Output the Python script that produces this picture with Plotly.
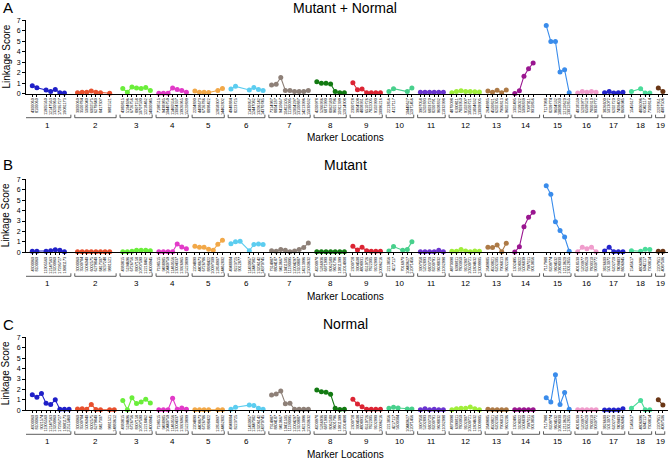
import plotly.graph_objects as go

# ---------------- data ----------------
CHROMOSOMES = ["1", "2", "3", "4", "5", "6", "7", "8", "9", "10",
               "11", "12", "13", "14", "15", "16", "17", "18", "19"]

COLORS = ["#1f1fc8", "#e8502e", "#6aee3a", "#e23ac8", "#f2a848", "#5ccdf0",
          "#8e8078", "#127a12", "#dc2433", "#48d08c", "#6a34d0", "#a0ee3a",
          "#ad7a46", "#9a1690", "#3a8ceb", "#f09ccc", "#2424cc", "#4adc9a",
          "#6a3616"]

MARKER_IDS = [
    ["1904061", "4300060", "8100060", "9021574", "11905560", "12147563", "13200960", "17295727", "19081173", "22515460"],
    ["3000060", "3500784", "5006040", "6002575", "6279840", "8417307", "9237248", "9881521", "14880612"],
    ["4380815", "5194696", "6726756", "8907158", "10707590", "12218462", "14000945"],
    ["7198515", "9438985", "10440759", "11460556", "13004337", "13926965", "15220899"],
    ["2204890", "4408673", "6726786", "8898422", "10097309", "12858907", "14462802"],
    ["4948884", "8223725", "9012877", "10341250", "11430957", "12447082", "13206142", "14370745"],
    ["7314987", "8804187", "9410667", "10411505", "11190095", "12004297", "13100887", "14213996", "15030632"],
    ["4200978", "5266936", "6871990", "8062580", "9601796", "10911399", "12014908"],
    ["2300728", "3904508", "4808931", "6510726", "7822005", "9102990", "10096216"],
    ["2213856", "4217117", "5600384", "7016970", "10440627", "12071456"],
    ["3907058", "5202893", "6803720", "8200791", "9608832", "11032998"],
    ["4870098", "6390811", "7803950", "9102907", "10500721", "11804632", "13009905"],
    ["2649885", "4500821", "6202305", "7906813", "9602206"],
    ["1302495", "3108022", "5006839", "7097011", "9010856", "10852470"],
    ["7117988", "8209774", "9604532", "10808030", "12110620", "13012855"],
    ["4018530", "5203977", "6509520", "7800310", "9030772"],
    ["3826600", "5013072", "6202720", "7409403", "8606945"],
    ["1545617", "3200415", "4806096", "6042117", "7300814"],
    ["2207951", "4087506"],
]

# Linkage scores, Mutant + Normal
VALUES_A = [
    [None, 0.76, 0.57, None, 0.35, 0.22, 0.41, 0.10, 0.06, None],
    [0.10, 0.15, 0.15, 0.25, 0.15, 0.10, None, 0.05, None],
    [0.50, 0.15, 0.65, 0.55, 0.50, 0.58, 0.30],
    [0.05, 0.05, 0.05, 0.55, 0.40, 0.30, 0.15],
    [0.25, 0.15, 0.15, 0.12, None, 0.30, 0.50],
    [0.45, 0.70, None, None, 0.35, 0.60, 0.40, 0.30],
    [0.83, 0.90, 1.55, 0.30, 0.30, 0.20, 0.20, 0.20, 0.30],
    [1.15, 1.00, 1.00, 0.92, 0.20, 0.10, 0.10],
    [1.05, 0.38, 0.45, 0.10, 0.10, 0.10, 0.10],
    [0.20, 0.48, None, None, 0.20, 0.55],
    [0.15, 0.15, 0.15, 0.15, 0.15, 0.15],
    [0.10, 0.20, 0.29, 0.22, 0.22, 0.19, 0.16],
    [0.25, 0.13, 0.32, 0.10, 0.35],
    [0.03, 0.29, 1.67, 2.38, 2.93, None],
    [6.50, 4.98, 4.98, 2.06, 2.28, 0.10],
    [0.06, 0.22, 0.13, 0.22, 0.13],
    [0.10, 0.20, 0.06, 0.10, 0.13],
    [0.20, None, 0.48, 0.06, 0.06],
    [0.55, 0.20],
]

# Linkage scores, Mutant
VALUES_B = [
    [None, 0.10, 0.10, None, 0.10, 0.15, 0.25, 0.20, 0.05, None],
    [0.05, 0.05, 0.05, 0.05, 0.05, 0.05, 0.05, 0.05, None],
    [0.05, 0.05, 0.10, 0.20, 0.20, 0.20, 0.15],
    [0.05, 0.05, 0.05, 0.05, 0.80, 0.50, 0.35],
    [0.57, 0.48, 0.48, 0.30, 0.20, 0.77, 1.15],
    [0.83, 1.00, 1.05, None, 0.15, 0.75, 0.80, 0.75],
    [0.15, 0.10, 0.28, 0.20, 0.05, 0.12, 0.28, 0.45, 0.90],
    [0.05, 0.05, 0.05, 0.05, 0.05, 0.05, 0.05],
    [0.57, 0.22, 0.48, 0.15, 0.10, 0.10, 0.10],
    [0.12, 0.55, None, 0.20, 0.28, 1.00],
    [0.05, 0.05, 0.05, 0.05, 0.20, 0.05],
    [0.10, 0.10, 0.28, 0.12, 0.06, 0.12, 0.10],
    [0.48, 0.45, 0.70, 0.06, 0.86],
    [0.03, 0.54, 2.46, 3.35, 3.83, None],
    [6.39, 5.56, 2.94, 2.10, 1.47, 0.10],
    [0.06, 0.48, 0.35, 0.48, 0.06],
    [0.13, 0.48, 0.06, 0.06, 0.06],
    [0.16, None, 0.10, 0.29, 0.26],
    [0.10, 0.10],
]

# Linkage scores, Normal
VALUES_C = [
    [None, 1.50, 1.25, 1.60, 0.67, 0.55, 1.00, 0.10, 0.10, 0.10],
    [0.12, 0.15, 0.10, 0.55, 0.08, 0.05, None, 0.05, 0.05],
    [0.95, 0.05, 1.20, 0.65, 0.80, 1.05, 0.70],
    [0.05, 0.05, 0.05, 1.15, 0.10, 0.22, 0.10],
    [0.05, 0.05, 0.05, 0.05, None, 0.05, 0.05],
    [0.10, 0.30, None, None, 0.50, 0.45, 0.20, 0.10],
    [1.47, 1.56, 1.85, 0.64, 0.67, 0.10, 0.10, 0.10, 0.10],
    [1.94, 1.78, 1.72, 1.53, 0.20, 0.07, 0.10],
    [1.05, 0.60, 0.35, 0.10, 0.10, 0.10, 0.10],
    [0.20, 0.30, 0.22, None, 0.12, 0.12],
    [0.05, 0.15, 0.05, 0.10, 0.05, 0.05],
    [0.06, 0.16, 0.19, 0.19, 0.32, 0.16, 0.06],
    [0.10, 0.06, 0.06, 0.06, 0.06],
    [0.06, 0.06, 0.06, 0.06, 0.06, None],
    [1.20, 0.80, 3.40, 0.55, 1.70, 0.10],
    [0.06, 0.06, 0.06, 0.06, 0.06],
    [0.03, 0.03, 0.03, 0.03, 0.16],
    [0.20, None, 0.95, 0.05, 0.05],
    [1.00, 0.50],
]

PANELS = [("A", "Mutant + Normal", VALUES_A),
          ("B", "Mutant", VALUES_B),
          ("C", "Normal", VALUES_C)]

# ---------------- layout constants ----------------
W, H = 669, 459
ML, MR = 26, 1
GAP = 1.85          # spacing between chromosomes, in marker-slot units
XRANGE = [-0.37, 139.41]
FONT = "Liberation Sans, Arial, sans-serif"
# pixel rows of each panel: (top of y axis, baseline)
PANEL_PX = [(20.3, 93.7), (179.3, 252.3), (337.3, 410.3)]


def py(px):
    return 1 - px / H


def px_x(px):
    return (px - ML) / (W - ML - MR)


# slot positions along the x axis
positions = []
p = 0.0
for ids in MARKER_IDS:
    positions.append([p + k for k in range(len(ids))])
    p += len(ids) - 1 + GAP

fig = go.Figure()
shapes = []
annotations = []

for pi, (letter, title, values) in enumerate(PANELS):
    ax = "" if pi == 0 else str(pi + 1)
    xname, yname = "x" + ax, "y" + ax
    top, base = PANEL_PX[pi]
    tickvals, ticktext = [], []
    for ci, vals in enumerate(values):
        xs, ys = [], []
        for k, v in enumerate(vals):
            if v is not None:
                xs.append(positions[ci][k])
                ys.append(v)
                tickvals.append(positions[ci][k])
                ticktext.append(MARKER_IDS[ci][k])
        fig.add_trace(go.Scatter(
            x=xs, y=ys, mode="lines+markers", xaxis=xname, yaxis=yname,
            line=dict(color=COLORS[ci], width=1.1),
            marker=dict(color=COLORS[ci], size=5),
            cliponaxis=False, showlegend=False,
            name="Chr " + CHROMOSOMES[ci]))

    fig.update_layout(**{
        "xaxis" + ax: dict(
            domain=[0, 1], anchor=yname, range=XRANGE, showgrid=False,
            zeroline=False, showline=True, linecolor="black", linewidth=1,
            ticks="outside", ticklen=2, tickwidth=0.8, tickcolor="black",
            tickvals=tickvals, ticktext=ticktext, tickangle=-90,
            automargin=False,
            tickfont=dict(size=3.8, color="black", family=FONT)),
        "yaxis" + ax: dict(
            domain=[py(base), py(top)], anchor=xname, range=[0, 7],
            tickvals=[0, 1, 2, 3, 4, 5, 6, 7], showgrid=False, zeroline=False,
            showline=True, linecolor="black", linewidth=1, ticks="outside",
            ticklen=3, tickwidth=0.8, tickcolor="black", automargin=False,
            tickfont=dict(size=7, color="black", family=FONT)),
    })

    # chromosome brackets and numbers
    yb = py(base + 24)
    hb = 3 / H
    for ci, pos in enumerate(positions):
        x0, x1 = pos[0] - 0.6, pos[-1] + 0.4
        shapes.append(dict(
            type="path", xref=xname, yref="paper",
            path=f"M {x0},{yb + hb} L {x0},{yb} L {x1},{yb} L {x1},{yb + hb}",
            line=dict(color="#333", width=0.8)))
        annotations.append(dict(
            x=(x0 + x1) / 2, y=py(base + 31.5), xref=xname, yref="paper",
            text=CHROMOSOMES[ci], showarrow=False, xanchor="center",
            yanchor="middle", font=dict(size=8, color="black", family=FONT)))

    title_y = [7.7, 165, 323.5][pi]
    letter_y = [7.5, 164, 324][pi]
    annotations += [
        dict(x=px_x(345), y=py(title_y), xref="paper", yref="paper", text=title,
             showarrow=False, xanchor="center", yanchor="middle",
             font=dict(size=14, color="black", family=FONT)),
        dict(x=px_x(1), y=py(letter_y), xref="paper", yref="paper", text=letter,
             showarrow=False, xanchor="left", yanchor="middle",
             font=dict(size=15, color="black", family=FONT)),
        dict(x=px_x(5.5), y=py((top + base) / 2), xref="paper", yref="paper",
             text="Linkage Score", textangle=-90, showarrow=False,
             xanchor="center", yanchor="middle",
             font=dict(size=10, color="black", family=FONT)),
        dict(x=px_x(345), y=py(base + 44), xref="paper", yref="paper",
             text="Marker Locations", showarrow=False, xanchor="center",
             yanchor="middle", font=dict(size=10, color="black", family=FONT)),
    ]

fig.update_layout(
    width=W, height=H, margin=dict(l=ML, r=MR, t=0, b=0, pad=0),
    paper_bgcolor="white", plot_bgcolor="white",
    font=dict(family=FONT, color="black"),
    shapes=shapes, annotations=annotations, hovermode="closest")

fig.write_html(
    "out.html",
    config={"displayModeBar": False},
    post_script="document.body.style.margin='0';document.body.style.padding='0';")
